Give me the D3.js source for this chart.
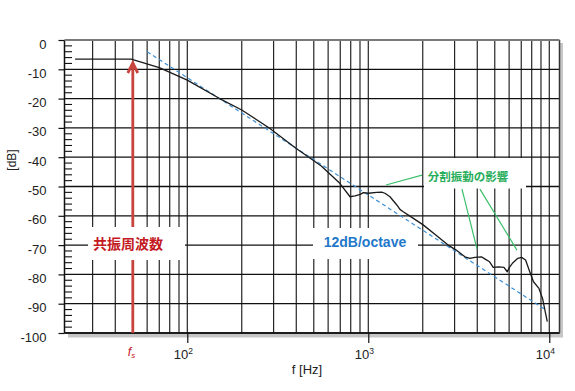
<!DOCTYPE html>
<html><head><meta charset="utf-8">
<script src="https://cdn.jsdelivr.net/npm/d3@7"></script>
<style>
html,body{margin:0;padding:0;background:#fff;}
svg text{font-family:"Liberation Sans",Arial,sans-serif;}
.jp{font-family:"Noto Sans CJK JP","Noto Sans CJK SC",sans-serif;font-weight:bold;}
</style></head>
<body>
<svg id="chart" width="575" height="391"></svg>
<script>
// ---- data ----
const respFreq = [24, 49, 70, 100, 150, 200, 285, 400, 550, 696, 793, 845, 903, 940, 1000, 1113, 1186, 1236, 1318, 1438, 1496, 1560, 1700, 2010, 2370, 2760, 3060, 3420, 3640, 3880, 4220, 4400, 4680, 4900, 5240, 5620, 5860, 6020, 6300, 6700, 7030, 7400, 7800, 8180, 8770, 9180, 9460, 9750];
const respDb   = [-6.5, -6.5, -9.4, -13.7, -19.9, -23.9, -30.1, -37, -43, -48.9, -53.5, -53.2, -52.7, -52.1, -52.3, -52, -51.9, -52.3, -53.5, -56.3, -57.8, -58.6, -60.1, -63.1, -66.6, -70, -71.7, -74, -74.5, -74.2, -74, -74.7, -75.7, -77.6, -77.4, -77.6, -79.1, -77.6, -76, -74.5, -74.2, -75.1, -79.1, -82.5, -84.8, -88.2, -92.2, -96.1];
const slopeFreq = [60, 9500];
const slopeDb = [-4, -92];
const fs = 50;
const yTicks = [0, -10, -20, -30, -40, -50, -60, -70, -80, -90, -100];
const yMinorTicks = d3.range(0, -101, -2);
const xGrid = [30,40,50,60,70,80,90,100,200,300,400,500,600,700,800,900,1000,2000,3000,4000,5000,6000,7000,8000,9000,10000];
const xMajor = [100, 1000, 10000];
const xMajorExp = ["2", "3", "4"];
const leaderStart = [[1980, -46.1], [3294, -50.9], [4141, -50.9]];
const leaderEnd   = [[1253, -49.5], [3988, -71.3], [6630, -71.7]];

// ---- layout ----
const L = 64.5, R = 559.5, T = 40, B = 333;
const x = d3.scaleLog().domain([20.97, 11390]).range([L, R]);
const y = d3.scaleLinear().domain([0, -100]).range([T, B]);
const svg = d3.select("#chart");

// shadow + plot background
svg.append("rect").attr("x", L + 3.5).attr("y", T + 3).attr("width", R - L).attr("height", B - T + 1.5).attr("fill", "#c6c6c6");
svg.append("rect").attr("x", L).attr("y", T).attr("width", R - L).attr("height", B - T).attr("fill", "#fff");

// grid
const g = svg.append("g");
g.selectAll(".hg").data(yTicks.slice(1)).join("line")
  .attr("x1", L).attr("x2", R).attr("y1", d => y(d)).attr("y2", d => y(d))
  .attr("stroke", "#111").attr("stroke-width", 1.3);
g.selectAll(".vg").data(xGrid).join("line")
  .attr("x1", d => x(d)).attr("x2", d => x(d)).attr("y1", T).attr("y2", B)
  .attr("stroke", "#111").attr("stroke-width", 1.1);

// y axis
const yAxis = svg.append("g").attr("transform", `translate(${L},0)`)
  .call(d3.axisLeft(y).tickValues(yTicks).tickSize(6).tickPadding(12).tickFormat(d => d));
yAxis.select(".domain").remove();
yAxis.selectAll(".tick line").attr("stroke", "#111").attr("stroke-width", 1.2);
yAxis.selectAll(".tick text").attr("font-size", 13).attr("fill", "#222").attr("dy", "0.62em")
  .attr("font-family", "Liberation Sans, Arial, sans-serif");
// minor y ticks inside
svg.append("g").selectAll("line").data(yMinorTicks.filter(d => d % 10 !== 0)).join("line")
  .attr("x1", L).attr("x2", L + 7.5).attr("y1", d => y(d)).attr("y2", d => y(d))
  .attr("stroke", "#111").attr("stroke-width", 1.1);

// x axis major ticks
const xAxis = svg.append("g").attr("transform", `translate(0,${B})`)
  .call(d3.axisBottom(x).tickValues(xMajor).tickSize(10).tickFormat(""));
xAxis.select(".domain").remove();
xAxis.selectAll(".tick line").attr("stroke", "#111").attr("stroke-width", 1.2);
const xl = svg.append("g").selectAll("text").data(xMajor).join("text")
  .attr("x", d => x(d) - 4).attr("y", 359).attr("text-anchor", "middle")
  .attr("font-size", 13).attr("fill", "#222");
xl.append("tspan").text("10");
xl.append("tspan").attr("font-size", 8.5).attr("dy", -5).text((d, i) => xMajorExp[i]);

// frame
svg.append("line").attr("x1", L).attr("x2", L).attr("y1", T).attr("y2", B).attr("stroke", "#111").attr("stroke-width", 1.5);
svg.append("line").attr("x1", L).attr("x2", R).attr("y1", B).attr("y2", B).attr("stroke", "#111").attr("stroke-width", 1.5);
svg.append("line").attr("x1", R).attr("x2", R).attr("y1", T).attr("y2", B).attr("stroke", "#333").attr("stroke-width", 1.5);
svg.append("line").attr("x1", L).attr("x2", R).attr("y1", T).attr("y2", T).attr("stroke", "#7a7a7a").attr("stroke-width", 2.2);

// asymptote
const line = d3.line().x(d => x(d[0])).y(d => y(d[1]));
svg.append("path").datum(slopeFreq.map((f, i) => [f, slopeDb[i]])).attr("d", line)
  .attr("fill", "none").attr("stroke", "#3d8fd4").attr("stroke-width", 1.2).attr("stroke-dasharray", "4,3");

// response curve
svg.append("path").datum(respFreq.map((f, i) => [f, respDb[i]])).attr("d", line)
  .attr("fill", "none").attr("stroke", "#1a1a1a").attr("stroke-width", 1.3).attr("stroke-linejoin", "round");

// resonance arrow
const ax = x(fs);
svg.append("line").attr("x1", ax).attr("x2", ax).attr("y1", B).attr("y2", 63)
  .attr("stroke", "#c8453f").attr("stroke-width", 2.8);
svg.append("polyline").attr("points", `${ax - 5},${73} ${ax},${63} ${ax + 5},${73}`)
  .attr("fill", "none").attr("stroke", "#c8453f").attr("stroke-width", 2.8).attr("stroke-linejoin", "miter");

// label boxes
svg.append("rect").attr("x", 88).attr("y", 227).attr("width", 97).attr("height", 33).attr("fill", "#fff");
svg.append("rect").attr("x", 313).attr("y", 228).attr("width", 105).attr("height", 31).attr("fill", "#fff");
svg.append("rect").attr("x", 424).attr("y", 158).attr("width", 102).attr("height", 30.5).attr("fill", "#fff");

// labels
svg.append("text").attr("class", "jp").attr("x", 128).attr("y", 248.5).attr("text-anchor", "middle")
  .attr("font-size", 14).attr("fill", "#c41a1f").text("共振周波数");
svg.append("text").attr("x", 365).attr("y", 246.5).attr("text-anchor", "middle")
  .attr("font-size", 14).attr("font-weight", "bold").attr("fill", "#1f78c9").text("12dB/octave");
svg.append("text").attr("class", "jp").attr("x", 468).attr("y", 180.5).attr("text-anchor", "middle")
  .attr("font-size", 11.5).attr("fill", "#28ad5a").text("分割振動の影響");

// leaders
svg.append("g").selectAll("line").data(leaderStart).join("line")
  .attr("x1", d => x(d[0])).attr("y1", d => y(d[1]))
  .attr("x2", (d, i) => x(leaderEnd[i][0])).attr("y2", (d, i) => y(leaderEnd[i][1]))
  .attr("stroke", "#3cbf6a").attr("stroke-width", 1.2);

// fs label
const fsl = svg.append("text").attr("x", ax - 5).attr("y", 356).attr("font-size", 12.5)
  .attr("font-style", "italic").attr("fill", "#c41a1f");
fsl.append("tspan").text("f");
fsl.append("tspan").attr("font-size", 8).attr("dy", 2).text("s");

// axis titles
svg.append("text").attr("x", 307).attr("y", 374).attr("text-anchor", "middle").attr("font-size", 13).attr("fill", "#222").text("f [Hz]");
svg.append("text").attr("transform", "translate(16,160) rotate(-90)").attr("text-anchor", "middle")
  .attr("font-size", 12).attr("fill", "#222").text("[dB]");
</script>
</body></html>
